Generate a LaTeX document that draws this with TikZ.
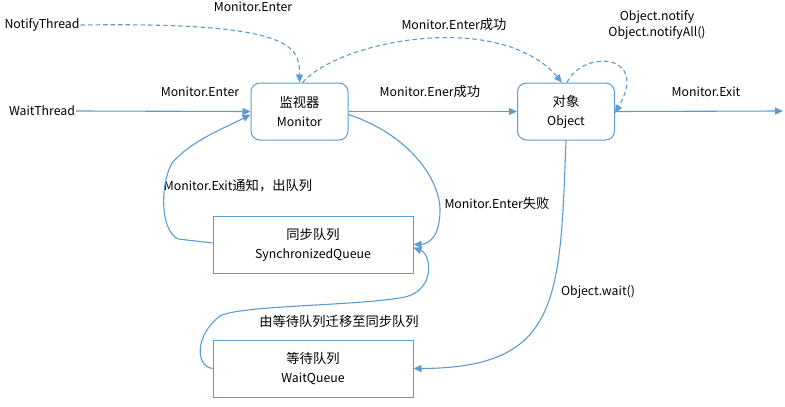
\documentclass[tikz,border=0pt]{standalone}
\usepackage{fontspec}
\setmainfont{Noto Sans CJK SC}
\newfontfamily\cjk{Noto Sans CJK SC}[Scale=1.08]
\usetikzlibrary{arrows.meta}
\definecolor{lb}{HTML}{5B9BD5}
\begin{document}
\begin{tikzpicture}[x=1pt,y=-1pt, font=\fontsize{12.3}{19}\selectfont,
 line/.style={draw=lb, line width=1.1pt, -{Triangle[length=8pt,width=7pt]}},
 dline/.style={line, dash pattern=on 4.5pt off 3pt},
 rbox/.style={draw=lb, line width=1pt, rounded corners=9pt, minimum width=97pt, minimum height=57pt, align=center, inner sep=0pt},
 qbox/.style={draw=lb, line width=1pt, minimum width=200pt, minimum height=57pt, align=center, inner sep=0pt},
 lbl/.style={inner sep=1pt, align=center}]
\useasboundingbox (0,0) rectangle (785,407);
\node[rbox] (mon) at (299.5,111.5) {{\cjk 监视器}\\Monitor};
\node[rbox] (obj) at (566,111.5) {{\cjk 对象}\\Object};
\node[qbox] (sync) at (313,244.5) {{\cjk 同步队列}\\SynchronizedQueue};
\node[qbox] (wait) at (313,368.5) {{\cjk 等待队列}\\WaitQueue};
\node[lbl] (nt) at (42,25) {NotifyThread};
\node[lbl] (wt) at (42,111) {WaitThread};
\coordinate (exitend) at (783,111);

\node[lbl] (l1) at (253,7) {Monitor.Enter};
\node[lbl] (l2) at (454,25) {Monitor.Enter{\cjk 成功}};
\node[lbl, font=\fontsize{12.3}{16}\selectfont] (l3) at (657,25) {Object.notify\\Object.notifyAll()};
\node[lbl] (l4) at (200,92) {Monitor.Enter};
\node[lbl] (l5) at (430,92) {Monitor.Ener{\cjk 成功}};
\node[lbl] (l6) at (706,92) {Monitor.Exit};
\node[lbl] (l7) at (238,186) {Monitor.Exit{\cjk 通知，出队列}};
\node[lbl] (l8) at (497,203) {Monitor.Enter{\cjk 失败}};
\node[lbl] (l9) at (598,292) {Object.wait()};
\node[lbl] (l10) at (339,321) {\cjk 由等待队列迁移至同步队列};

\draw[dline] (nt.east) .. controls (290,22) and (300,45) .. (mon.north);
\draw[dline] ([xshift=3pt]mon.north) .. controls (340,40) and (500,10) .. ([xshift=-4pt]obj.north);
\draw[dline] ([xshift=1pt]obj.north) .. controls (582,50) and (650,52) .. ([yshift=-1.5pt]obj.east);

\draw[line] (wt.east) -- (mon.west);
\draw[line] (mon.east) -- (obj.west);
\draw[line] (obj.east) -- (exitend);

\draw[line] ([yshift=-3pt]mon.east) .. controls (410,135) and (440,180) .. (440,210) .. controls (440,235) and (430,244) .. (sync.east);
\draw[line] ([yshift=1.5pt]sync.west) -- (178,239) .. controls (160,230) and (160,185) .. (172,163) .. controls (192,140) and (225,128) .. ([yshift=-3pt]mon.west);
\draw[line] (obj.south) .. controls (560,300) and (560,368) .. (wait.east);
\draw[line] (wait.west) .. controls (195,366) and (195,335) .. (220,316) .. controls (240,305) and (360,306) .. (405,297) .. controls (435,290) and (432,255) .. ([yshift=-3pt]sync.east);
\end{tikzpicture}
\end{document}
